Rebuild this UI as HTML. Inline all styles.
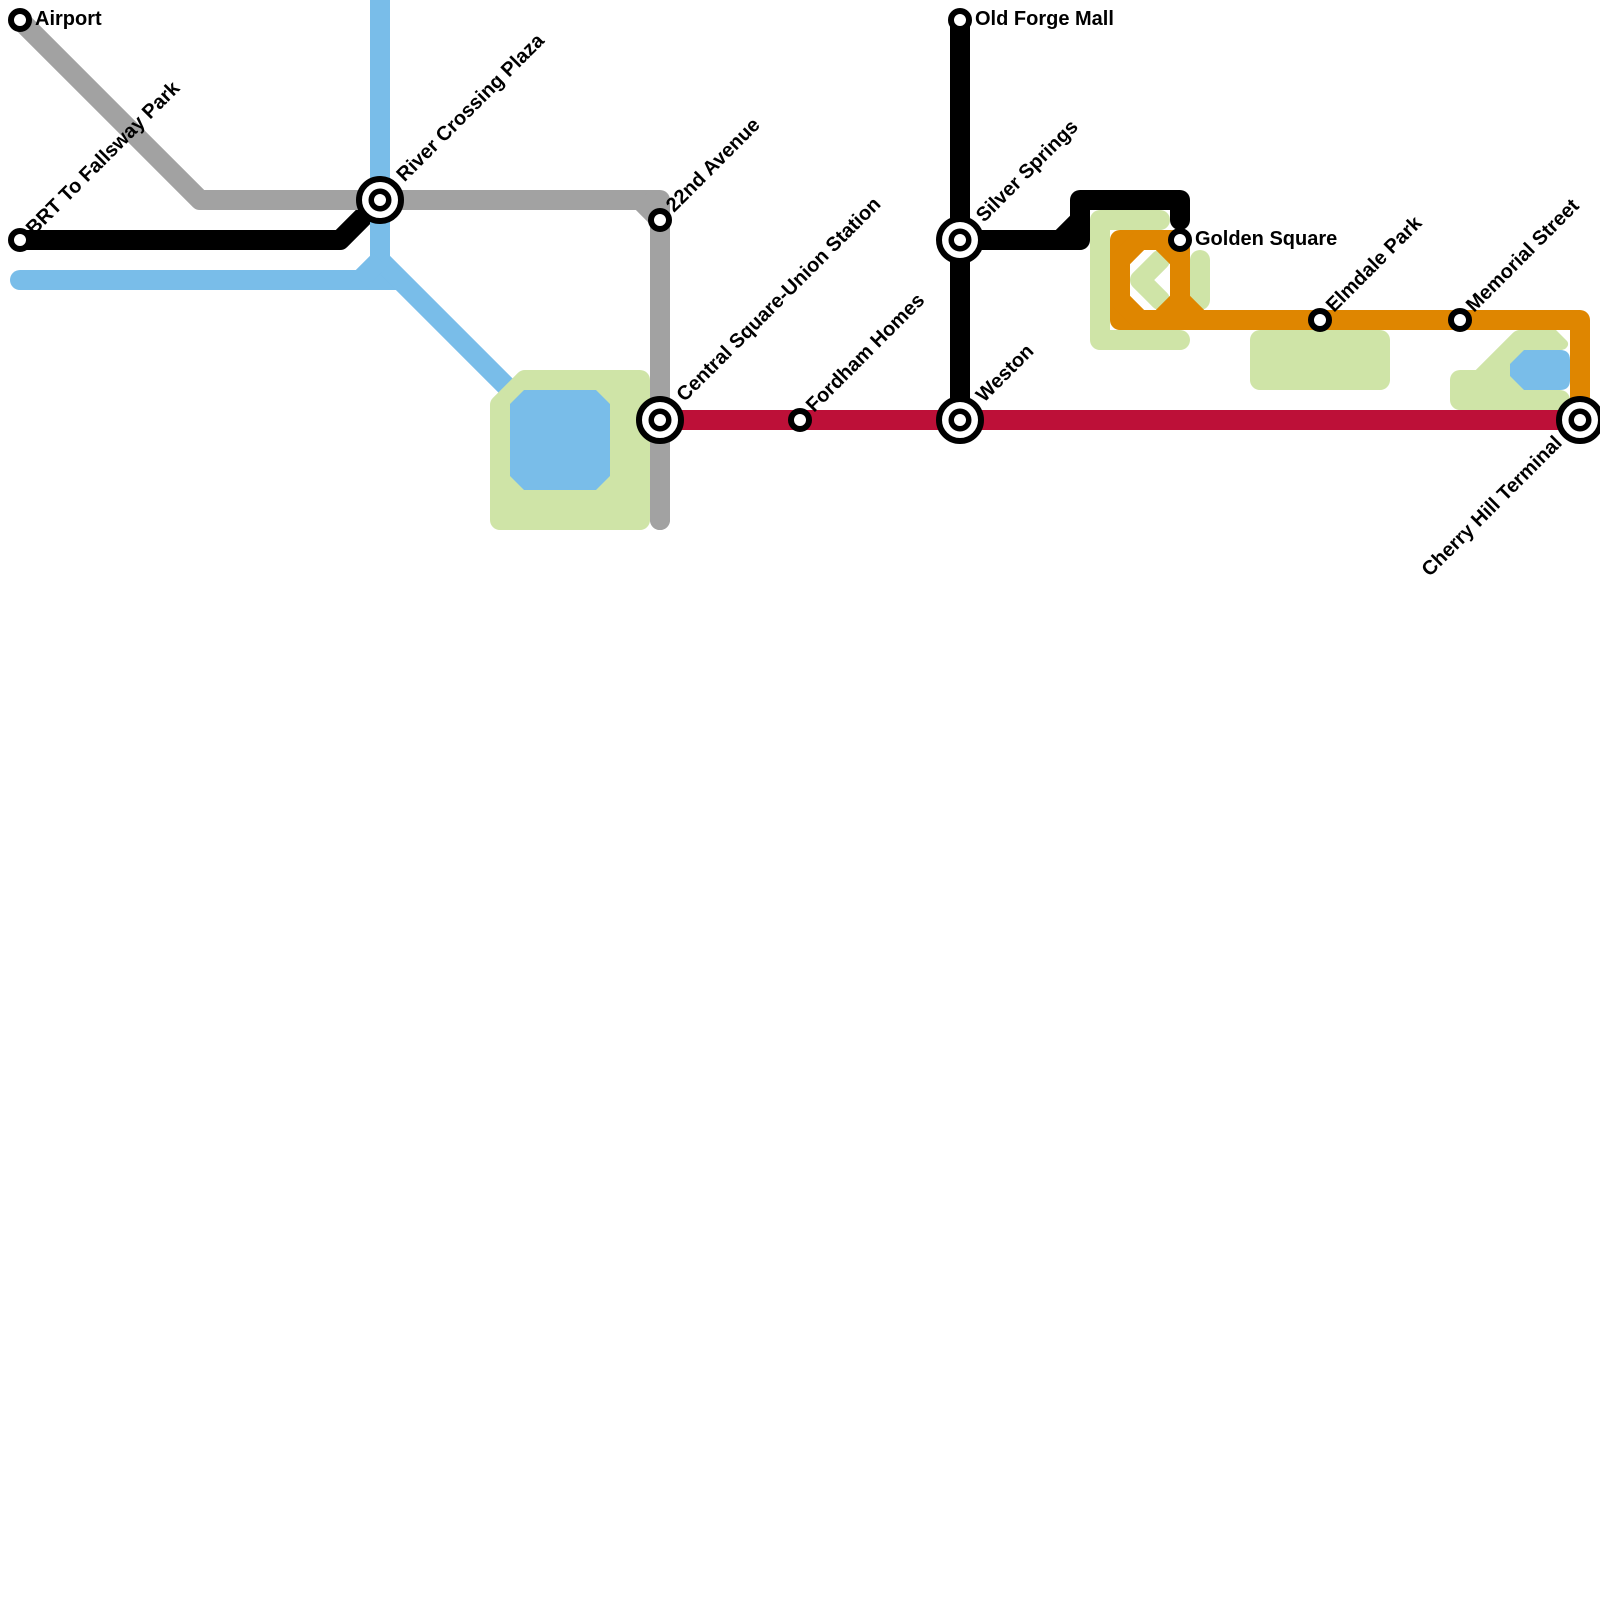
<!DOCTYPE html>
<html><head><meta charset="utf-8"><style>
html,body{margin:0;padding:0;background:#fff;width:1600px;height:1600px;overflow:hidden}
svg{display:block}
text{font-family:"Liberation Sans",sans-serif;font-weight:700;font-size:20px;fill:#000}
.l{fill:none;stroke-width:20;stroke-linejoin:round;stroke-linecap:butt}
.c{stroke-linecap:round}
.s{fill:#fff;stroke:#000;stroke-width:6}
.i{fill:#fff;stroke:#000;stroke-width:5.5}
</style></head><body>
<svg width="1600" height="1600" viewBox="0 0 1600 1600" xmlns="http://www.w3.org/2000/svg">
<rect width="1600" height="1600" fill="#fff"/>
<!-- black -->
<g stroke="#000">
<path class="l" d="M20 240H340L380 200"/>
<path class="l" d="M960 20V420"/>
<path class="l c" d="M960 240H1080V200H1180V220"/>
<path class="l" d="M1060 240L1080 220"/>
</g>
<!-- green -->
<g stroke="#cfe4a7">
<path class="l c" d="M1160 220H1100V340H1180"/>
<path class="l c" d="M1160 260L1140 280L1160 300"/>
<path class="l c" d="M1200 260V300"/>
<path d="M1260 340H1380V380H1260Z" fill="#cfe4a7" stroke-width="20" stroke-linejoin="round"/>
<path d="M1460 380H1480L1520 340H1540V400H1460Z" fill="#cfe4a7" stroke-width="20" stroke-linejoin="round"/>
<path class="l c" d="M1540 400H1560"/>
<path d="M1530 330H1556L1567 341Q1570 345 1565 349L1550 354H1530Z" fill="#cfe4a7" stroke="none"/>
</g>
<!-- grey -->
<g stroke="#a2a2a2">
<path class="l c" d="M20 20L200 200H660V520"/>
<path class="l" d="M640 200L660 220"/>
</g>
<!-- blue -->
<g stroke="#79bde9">
<path class="l" d="M380 0V260"/>
<path class="l c" d="M20 280H390"/>
<path class="l" d="M390 280H400"/>
<path class="l" d="M380 260L520 400"/>
<path class="l" d="M380 260L360 280"/>
</g>
<!-- big park -->
<path d="M525 380H640V520H500V405Z" fill="#cfe4a7" stroke="#cfe4a7" stroke-width="20" stroke-linejoin="round"/>
<path d="M660 390V520" fill="none" stroke="#a2a2a2" stroke-width="20" stroke-linecap="round"/>
<polygon points="524,390 596,390 610,404 610,476 596,490 524,490 510,476 510,404" fill="#79bde9"/>
<path d="M1524 350H1560Q1570 350 1570 360V380Q1570 390 1560 390H1524L1510 376V364Z" fill="#79bde9"/>
<!-- red -->
<path class="l" stroke="#bd1038" d="M660 420H1580"/>
<!-- orange -->
<g stroke="#df8600">
<path class="l" d="M1180 240H1120V320H1580V420"/>
<path class="l" d="M1180 240V300"/>
<path class="l" d="M1120 260L1140 240"/>
<path class="l" d="M1120 300L1140 320"/>
<path class="l" d="M1160 240L1180 260"/>
<path class="l" d="M1180 300L1160 320"/>
<path class="l" d="M1180 300L1200 320"/>
</g>
<path class="l" stroke="#bd1038" d="M1480 420H1560"/>
<!-- stations -->
<circle class="s" cx="20" cy="20" r="9"/>
<circle class="s" cx="20" cy="240" r="9"/>
<circle class="s" cx="660" cy="220" r="9"/>
<circle class="s" cx="800" cy="420" r="9"/>
<circle class="s" cx="960" cy="20" r="9"/>
<circle class="s" cx="1180" cy="240" r="9"/>
<circle class="s" cx="1320" cy="320" r="9"/>
<circle class="s" cx="1460" cy="320" r="9"/>
<g>
<circle class="s" cx="380" cy="200" r="21"/><circle class="i" cx="380" cy="200" r="8.75"/>
<circle class="s" cx="660" cy="420" r="21"/><circle class="i" cx="660" cy="420" r="8.75"/>
<circle class="s" cx="960" cy="240" r="21"/><circle class="i" cx="960" cy="240" r="8.75"/>
<circle class="s" cx="960" cy="420" r="21"/><circle class="i" cx="960" cy="420" r="8.75"/>
<circle class="s" cx="1580" cy="420" r="21"/><circle class="i" cx="1580" cy="420" r="8.75"/>
</g>
<!-- labels -->
<text x="35" y="25">Airport</text>
<text x="975" y="25">Old Forge Mall</text>
<text x="1195" y="245">Golden Square</text>
<text transform="translate(34,236) rotate(-45)">BRT To Fallsway Park</text>
<text transform="translate(404.5,182.5) rotate(-45)">River Crossing Plaza</text>
<text transform="translate(674,213) rotate(-45)">22nd Avenue</text>
<text transform="translate(684.5,402.5) rotate(-45)">Central Square-Union Station</text>
<text transform="translate(814,413) rotate(-45)">Fordham Homes</text>
<text transform="translate(984,403) rotate(-45)">Weston</text>
<text transform="translate(984,223) rotate(-45)">Silver Springs</text>
<text transform="translate(1334,313) rotate(-45)">Elmdale Park</text>
<text transform="translate(1474,313) rotate(-45)">Memorial Street</text>
<text text-anchor="end" transform="translate(1563,444) rotate(-45)">Cherry Hill Terminal</text>
</svg>
</body></html>
